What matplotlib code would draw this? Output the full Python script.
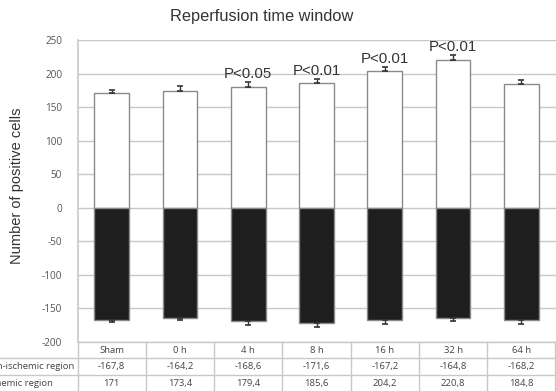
import matplotlib
matplotlib.use("Agg")
import matplotlib.pyplot as plt
import numpy as np

categories = ["Sham", "0 h", "4 h", "8 h", "16 h", "32 h", "64 h"]
ischemic = [171, 173.4, 179.4, 185.6, 204.2, 220.8, 184.8]
non_ischemic = [-167.8, -164.2, -168.6, -171.6, -167.2, -164.8, -168.2]
ischemic_err = [4.5, 8, 8.5, 6, 6, 7, 5]
non_ischemic_err = [3.5, 3.5, 6, 7, 6.5, 4, 5.5]
p_labels = ["", "", "P<0.05", "P<0.01", "P<0.01", "P<0.01", ""]
row_labels = ["Non-ischemic region", "Ischemic region"]
yticks = [250, 200, 150, 100, 50, 0, -50, -100, -150, -200]

def fmt(v):
    s = ("%g" % v).replace(".", ",")
    return s

W, H = 556, 391
fig = plt.figure(figsize=(W/100, H/100), dpi=100)
ax = fig.add_axes([77.5/W, 1-341.7/H, (555.5-77.5)/W, (341.7-40)/H])

x = np.arange(len(categories))
grid_c = "#c8c8c8"
edge_c = "#8a8a8a"
ax.set_axisbelow(True)
ax.yaxis.grid(True, color=grid_c, lw=1.0)
ax.bar(x, ischemic, width=0.51, color="white", edgecolor=edge_c, lw=1.0, zorder=2)
ax.bar(x, non_ischemic, width=0.51, color="#1e1e1e", edgecolor=edge_c, lw=1.0, zorder=2)
ax.errorbar(x, ischemic, yerr=[np.zeros(len(x)), ischemic_err], fmt="none",
            ecolor="#333333", elinewidth=1.0, capsize=2, capthick=1.2, zorder=3)
ax.errorbar(x, non_ischemic, yerr=[non_ischemic_err, np.zeros(len(x))], fmt="none",
            ecolor="#333333", elinewidth=1.0, capsize=2, capthick=1.2, zorder=3)
for xi, v, e, p in zip(x, ischemic, ischemic_err, p_labels):
    if p:
        ax.text(xi, v + e + 1.5, p, ha="center", va="bottom", fontsize=10.8,
                color="#333333", family="Liberation Sans")

ax.set_xlim(-0.5, len(categories) - 0.5)
ax.set_ylim(-200, 250)
ax.set_yticks(yticks)
ax.set_yticklabels([str(t) for t in yticks], fontsize=7.2, color="#555555",
                   family="Open Sans")
ax.tick_params(axis="y", length=0, pad=11)
ax.set_xticks([])
for s in ["top", "right", "bottom"]:
    ax.spines[s].set_visible(False)
ax.spines["left"].set_color(grid_c)
ax.spines["left"].set_linewidth(1.2)

fig.text(17/W, 1-186/H, "Number of positive cells", rotation=90, ha="center",
         va="center", fontsize=10.5, color="#333333", family="Liberation Sans")
fig.text(262/W, 1-16/H, "Reperfusion time window", ha="center", va="center",
         fontsize=11.8, color="#333333", family="Liberation Sans")

# data table below the axes
row_h = 16.7 / (341.7 - 40)  # in axes fraction
trans = ax.get_xaxis_transform()
tbl_c = "#c8c8c8"
for k in range(4):
    y = -k * row_h
    ax.plot([-0.5, len(categories) - 0.5], [y, y], transform=trans, color=tbl_c,
            lw=1.0, clip_on=False)
for k in range(1, 4):
    y = -k * row_h
    ax.plot([-2.0, -0.5], [y, y], transform=trans, color=tbl_c, lw=1.0, clip_on=False)
for i in range(len(categories) + 1):
    xb = i - 0.5
    ax.plot([xb, xb], [0, -3 * row_h], transform=trans, color=tbl_c, lw=1.0,
            clip_on=False)
tfont = dict(fontsize=6.8, color="#444444", family="Open Sans")
for i, c in enumerate(categories):
    ax.text(i, -0.5 * row_h, c, transform=trans, ha="center", va="center", **tfont)
    ax.text(i, -1.5 * row_h, fmt(non_ischemic[i]), transform=trans, ha="center",
            va="center", **tfont)
    ax.text(i, -2.5 * row_h, fmt(ischemic[i]), transform=trans, ha="center",
            va="center", **tfont)
fig.text(74/W, 1-366.5/H, row_labels[0], ha="right", va="center", **tfont)
fig.text(-16/W, 1-383/H, row_labels[1], ha="left", va="center", **tfont)

fig.savefig("out.png", dpi=100)
